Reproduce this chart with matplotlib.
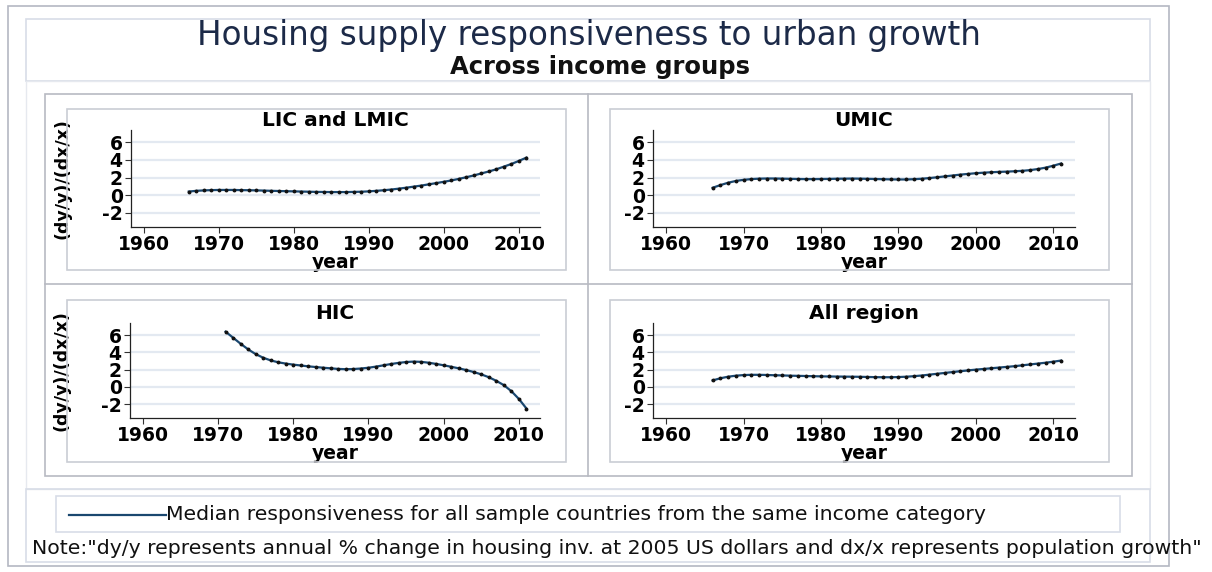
import matplotlib
matplotlib.use("Agg")
import matplotlib.pyplot as plt
from matplotlib.patches import Rectangle
from matplotlib.lines import Line2D
import numpy as np

plt.rcParams["axes.unicode_minus"] = False

W, H = 1212, 572

years_a = list(range(1966, 2012))
years_hic = list(range(1971, 2012))

lic = [0.42, 0.5, 0.55, 0.58, 0.6, 0.6, 0.6, 0.58, 0.57, 0.55,
       0.53, 0.5, 0.48, 0.46, 0.44, 0.42, 0.4, 0.38, 0.37, 0.36,
       0.36, 0.36, 0.38, 0.4, 0.44, 0.5, 0.57, 0.65, 0.75, 0.86,
       0.98, 1.1, 1.24, 1.38, 1.53, 1.68, 1.86, 2.05, 2.25, 2.48,
       2.7, 2.95, 3.25, 3.55, 3.9, 4.27]
umic = [0.85, 1.15, 1.42, 1.62, 1.75, 1.83, 1.88, 1.9, 1.9, 1.88,
        1.86, 1.84, 1.83, 1.83, 1.84, 1.85, 1.87, 1.88, 1.89, 1.88,
        1.86, 1.84, 1.82, 1.8, 1.79, 1.79, 1.82, 1.87, 1.95, 2.04,
        2.14, 2.24, 2.34, 2.42, 2.5, 2.56, 2.61, 2.65, 2.68, 2.72,
        2.77, 2.85, 2.97, 3.13, 3.35, 3.6]
hic = [6.4, 5.7, 5.0, 4.35, 3.8, 3.38, 3.07, 2.85, 2.7, 2.58,
       2.48, 2.38, 2.3, 2.22, 2.15, 2.08, 2.05, 2.07, 2.13, 2.22,
       2.35, 2.5, 2.65, 2.78, 2.88, 2.93, 2.9, 2.8, 2.66, 2.5,
       2.33, 2.15, 1.95, 1.72, 1.45, 1.12, 0.7, 0.2, -0.5, -1.4, -2.5]
allreg = [0.75, 1.0, 1.18, 1.3, 1.37, 1.4, 1.4, 1.38, 1.35, 1.33,
          1.3, 1.28, 1.26, 1.24, 1.22, 1.21, 1.2, 1.19, 1.18, 1.17,
          1.15, 1.13, 1.12, 1.12, 1.14, 1.18, 1.24, 1.32, 1.42, 1.52,
          1.62, 1.72, 1.82, 1.91, 2.0, 2.08, 2.16, 2.24, 2.32, 2.4,
          2.5, 2.6, 2.7, 2.8, 2.92, 3.05]

panels = [
    ("LIC and LMIC", years_a, lic, (131, 130, 540, 227), True),
    ("UMIC", years_a, umic, (653, 130, 1075, 227), False),
    ("HIC", years_hic, hic, (130, 323, 540, 418), True),
    ("All region", years_a, allreg, (653, 323, 1075, 418), False),
]
xticks = [1960, 1970, 1980, 1990, 2000, 2010]
yticks = [-2, 0, 2, 4, 6]

navy = "#1a476f"
grid_c = "#e3e9f1"

fig = plt.figure(figsize=(W / 100, H / 100), dpi=100)
fig.patch.set_facecolor("white")


def box(x0, y0, x1, y1, ec, lw=1.0):
    fig.patches.append(Rectangle((x0 / W, 1 - y1 / H), (x1 - x0) / W, (y1 - y0) / H,
                                 transform=fig.transFigure, fill=False,
                                 edgecolor=ec, linewidth=lw, zorder=0))


# frames
box(8, 6, 1169, 566, "#b4b8c2", 1.2)
box(26, 19, 1150, 81, "#d8dde7", 1.2)
box(26, 81, 1150, 489, "#e6e9ef", 1.0)
box(26, 489, 1150, 562, "#d8dde7", 1.2)
box(45, 94, 1132, 476, "#b8bac2", 1.2)
fig.add_artist(Line2D([588 / W, 588 / W], [1 - 94 / H, 1 - 476 / H], color="#b8bac2", lw=1.2))
fig.add_artist(Line2D([45 / W, 1132 / W], [1 - 284 / H, 1 - 284 / H], color="#b8bac2", lw=1.2))
for (x0, x1) in [(67, 566), (610, 1109)]:
    for (y0, y1) in [(109, 270), (300, 462)]:
        box(x0, y0, x1, y1, "#cacdd4", 1.2)

fig.text(589 / W, 1 - 35 / H, "Housing supply responsiveness to urban growth",
         ha="center", va="center", fontsize=23.5, color="#1c2a48", family="DejaVu Sans")
fig.text(600 / W, 1 - 67 / H, "Across income groups",
         ha="center", va="center", fontsize=17.5, fontweight="bold", color="#111111",
         family="DejaVu Sans")

for title, xs, ys, (l, t, r, b), ylab in panels:
    ax = fig.add_axes([l / W, 1 - b / H, (r - l) / W, (b - t) / H])
    ax.plot(xs, ys, color=navy, lw=1.6, marker="o", ms=1.8,
            mfc="#111111", mec="#111111", zorder=3)
    ax.set_xlim(1958.3, 2012.8)
    ax.set_ylim(-3.6, 7.4)
    ax.set_xticks(xticks)
    ax.set_yticks(yticks)
    ax.yaxis.grid(True, color=grid_c, lw=1.6)
    ax.set_axisbelow(True)
    for s in ["top", "right"]:
        ax.spines[s].set_visible(False)
    for s in ["left", "bottom"]:
        ax.spines[s].set_color("#222222")
        ax.spines[s].set_linewidth(0.9)
    ax.tick_params(axis="both", direction="out", length=4, width=0.8, color="#333333",
                   labelsize=13.5, pad=2)
    for lab in ax.get_xticklabels() + ax.get_yticklabels():
        lab.set_fontweight("bold")
    ax.set_xlabel("year", fontsize=13.5, fontweight="bold", labelpad=-1)
    if ylab:
        ax.set_ylabel("(dy/y)/(dx/x)", fontsize=12.5, fontweight="bold", labelpad=22)
    ax.set_title(title, fontsize=14.5, fontweight="bold", pad=1)

# legend
box(56, 496, 1120, 532, "#d8dde7", 1.2)
fig.add_artist(Line2D([69 / W, 166 / W], [1 - 515 / H, 1 - 515 / H], color=navy, lw=1.6))
fig.text(166 / W, 1 - 515 / H,
         "Median responsiveness for all sample countries from the same income category",
         ha="left", va="center", fontsize=14.7, color="#111111")
fig.text(32 / W, 1 - 549 / H,
         'Note:"dy/y represents annual % change in housing inv. at 2005 US dollars and dx/x represents population growth"',
         ha="left", va="center", fontsize=14.7, color="#111111")

fig.savefig("out.png", dpi=100)
